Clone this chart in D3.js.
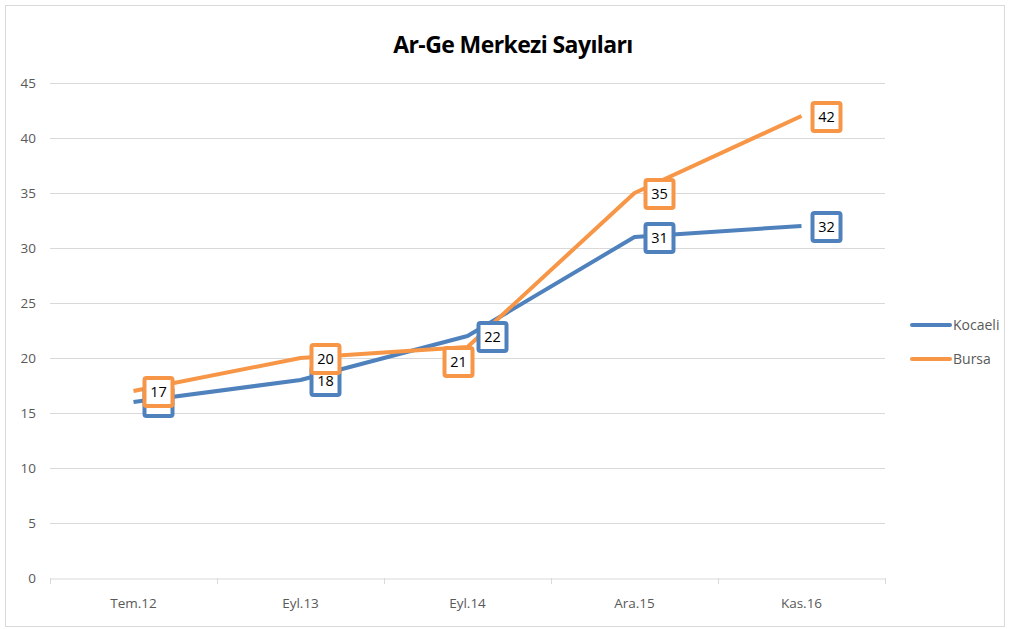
<!DOCTYPE html>
<html>
<head>
<meta charset="utf-8">
<script src="https://cdn.jsdelivr.net/npm/d3@7"></script>
<style>
	body { margin: 0; background: #fff; }
	svg { display: block; font-family: "Open Sans", "Noto Sans", sans-serif; }
</style>
</head>
<body>
<svg id="chart" width="1010" height="629"></svg>
<script>
var categories = ["Tem.12", "Eyl.13", "Eyl.14", "Ara.15", "Kas.16"];
var kocaeliValues = [16, 18, 22, 31, 32];
var bursaValues = [17, 20, 21, 35, 42];
var yTicks = [0, 5, 10, 15, 20, 25, 30, 35, 40, 45];

var seriesList = [
	{ name: "Kocaeli", values: kocaeliValues, color: "#4f81bd" },
	{ name: "Bursa", values: bursaValues, color: "#f79646" }
];

var svg = d3.select("#chart");
var margin = { left: 50, right: 885, top: 83, bottom: 578 };

// outer frame
svg.append("rect")
	.attr("x", 5.5).attr("y", 5.5)
	.attr("width", 999).attr("height", 621)
	.style("fill", "white")
	.style("stroke", "#d9d9d9");

svg.append("text")
	.attr("x", 513)
	.attr("y", 53)
	.style("text-anchor", "middle")
	.style("font-size", "23px")
	.style("font-weight", "bold")
	.style("letter-spacing", "-0.6px")
	.style("fill", "#000")
	.text("Ar-Ge Merkezi Sayıları");

var x = d3.scaleBand()
	.domain(categories)
	.range([margin.left, margin.right]);

var y = d3.scaleLinear()
	.domain([0, 45])
	.range([margin.bottom, margin.top]);

// gridlines
svg.append("g")
	.selectAll("line")
	.data(yTicks.slice(1))
	.enter()
	.append("line")
	.attr("x1", margin.left)
	.attr("x2", margin.right)
	.attr("y1", function(d) { return Math.round(y(d)) + 0.5; })
	.attr("y2", function(d) { return Math.round(y(d)) + 0.5; })
	.style("stroke", "#d9d9d9")
	.style("stroke-width", 1);

// y axis labels
var yAxis = svg.append("g")
	.attr("transform", "translate(" + margin.left + ",0)")
	.call(d3.axisLeft(y).tickValues(yTicks).tickSize(0).tickPadding(14));
yAxis.select(".domain").remove();
yAxis.selectAll("text")
	.style("font-size", "13.5px")
	.style("font-family", "'Open Sans', sans-serif")
	.style("fill", "#595959");

// x axis
var xAxis = svg.append("g")
	.attr("transform", "translate(0," + (margin.bottom + 0.5) + ")")
	.call(d3.axisBottom(x).tickSize(0).tickPadding(20));
xAxis.select(".domain")
	.style("stroke", "#d9d9d9");
xAxis.selectAll("text")
	.style("font-size", "13.5px")
	.style("font-family", "'Open Sans', sans-serif")
	.style("fill", "#595959");

var boundaries = categories.map(function(c) { return x(c); }).concat([margin.right]);
svg.append("g")
	.selectAll("line")
	.data(boundaries)
	.enter()
	.append("line")
	.attr("x1", function(d) { return Math.round(d) + 0.5; })
	.attr("x2", function(d) { return Math.round(d) + 0.5; })
	.attr("y1", margin.bottom)
	.attr("y2", margin.bottom + 6)
	.style("stroke", "#d9d9d9");

var line = d3.line()
	.x(function(d, i) { return x(categories[i]) + x.bandwidth() / 2; })
	.y(function(d) { return y(d); });

seriesList.forEach(function(s) {
	svg.append("path")
		.datum(s.values)
		.attr("d", line)
		.style("fill", "none")
		.style("stroke", s.color)
		.style("stroke-width", 4)
		.style("stroke-linejoin", "round");
});

// data labels: placed right of the point, except Bursa at Eyl.14
var labelOffset = function(seriesName, i) {
	if (seriesName === "Bursa" && i === 2) return [-9, 15];
	if (seriesName === "Kocaeli" && i === 0) return [25, 0];
	return [25, 1];
};

seriesList.forEach(function(s) {
	var labels = svg.append("g")
		.selectAll("g")
		.data(s.values)
		.enter()
		.append("g")
		.attr("transform", function(d, i) {
			var off = labelOffset(s.name, i);
			var cx = x(categories[i]) + x.bandwidth() / 2 + off[0];
			var cy = y(d) + off[1];
			return "translate(" + cx + "," + cy + ")";
		});

	labels.append("rect")
		.attr("x", -14)
		.attr("y", -14)
		.attr("width", 28)
		.attr("height", 28)
		.attr("rx", 2)
		.style("fill", "white")
		.style("stroke", s.color)
		.style("stroke-width", 4);

	labels.append("text")
		.attr("y", 5)
		.style("text-anchor", "middle")
		.style("font-size", "14.5px")
		.style("fill", "#000")
		.text(function(d) { return d; });
});

// legend
var legend = svg.append("g")
	.selectAll("g")
	.data(seriesList)
	.enter()
	.append("g")
	.attr("transform", function(d, i) {
		return "translate(912," + (325 + i * 34) + ")";
	});

legend.append("line")
	.attr("x1", 0).attr("x2", 38)
	.style("stroke", function(d) { return d.color; })
	.style("stroke-width", 4)
	.style("stroke-linecap", "round");

legend.append("text")
	.attr("x", 41)
	.attr("y", 5)
	.style("font-size", "14px")
	.style("fill", "#595959")
	.text(function(d) { return d.name; });
</script>
</body>
</html>
